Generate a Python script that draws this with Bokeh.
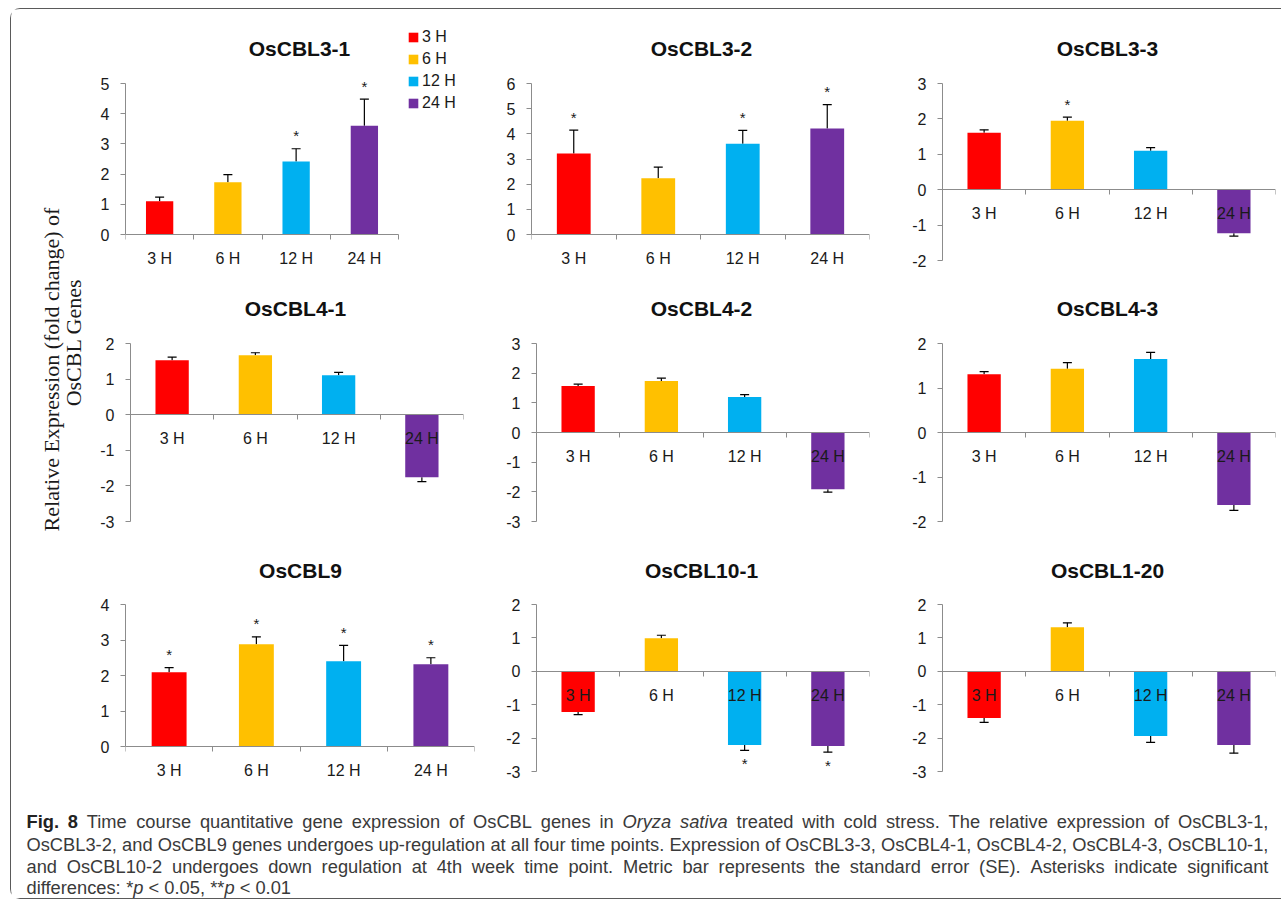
import math
from bokeh.plotting import figure
from bokeh.models import (Range1d, FixedTicker, ColumnDataSource,
                          Whisker, TeeHead, Label, Legend, LegendItem)
from bokeh.layouts import row, column
from bokeh.core.properties import value
from bokeh.embed import file_html
from bokeh.resources import INLINE

# ---------------- data ----------------
times = ["3 H", "6 H", "12 H", "24 H"]
time_colors = ["#FF0000", "#FFC000", "#00B0F0", "#7030A0"]

genes = ["OsCBL3-1", "OsCBL3-2", "OsCBL3-3", "OsCBL4-1", "OsCBL4-2",
         "OsCBL4-3", "OsCBL9", "OsCBL10-1", "OsCBL1-20"]

oscbl3_1 = [1.10, 1.73, 2.42, 3.60]
oscbl3_1_se = [0.14, 0.25, 0.42, 0.88]
oscbl3_1_sig = [False, False, True, True]

oscbl3_2 = [3.22, 2.24, 3.61, 4.21]
oscbl3_2_se = [0.93, 0.44, 0.53, 0.95]
oscbl3_2_sig = [True, False, True, True]

oscbl3_3 = [1.61, 1.95, 1.10, -1.23]
oscbl3_3_se = [0.08, 0.10, 0.09, 0.08]
oscbl3_3_sig = [False, True, False, False]

oscbl4_1 = [1.53, 1.67, 1.11, -1.76]
oscbl4_1_se = [0.09, 0.07, 0.08, 0.12]
oscbl4_1_sig = [False, False, False, False]

oscbl4_2 = [1.57, 1.74, 1.20, -1.91]
oscbl4_2_se = [0.06, 0.09, 0.08, 0.10]
oscbl4_2_sig = [False, False, False, False]

oscbl4_3 = [1.31, 1.43, 1.65, -1.63]
oscbl4_3_se = [0.06, 0.14, 0.15, 0.12]
oscbl4_3_sig = [False, False, False, False]

oscbl9 = [2.09, 2.88, 2.40, 2.32]
oscbl9_se = [0.13, 0.21, 0.45, 0.18]
oscbl9_sig = [True, True, True, True]

oscbl10_1 = [-1.22, 0.99, -2.21, -2.24]
oscbl10_1_se = [0.08, 0.09, 0.16, 0.18]
oscbl10_1_sig = [False, False, True, True]

oscbl1_20 = [-1.40, 1.32, -1.94, -2.21]
oscbl1_20_se = [0.13, 0.13, 0.19, 0.24]
oscbl1_20_sig = [False, False, False, False]

gene_means = [oscbl3_1, oscbl3_2, oscbl3_3, oscbl4_1, oscbl4_2, oscbl4_3, oscbl9, oscbl10_1, oscbl1_20]
gene_se = [oscbl3_1_se, oscbl3_2_se, oscbl3_3_se, oscbl4_1_se, oscbl4_2_se, oscbl4_3_se,
           oscbl9_se, oscbl10_1_se, oscbl1_20_se]
gene_sig = [oscbl3_1_sig, oscbl3_2_sig, oscbl3_3_sig, oscbl4_1_sig, oscbl4_2_sig, oscbl4_3_sig,
            oscbl9_sig, oscbl10_1_sig, oscbl1_20_sig]

y_axis_min = [0, 0, -2, -3, -3, -2, 0, -3, -3]
y_axis_max = [5, 6, 3, 2, 3, 2, 4, 2, 2]

y_label_lines = ["Relative Expression (fold change) of", "OsCBL Genes"]

caption_lines = [
    [("Fig. 8", "bold"), (" Time course quantitative gene expression of OsCBL genes in ", "normal"),
     ("Oryza sativa", "italic"), (" treated with cold stress. The relative expression of OsCBL3-1,", "normal")],
    [("OsCBL3-2, and OsCBL9 genes undergoes up-regulation at all four time points. Expression of "
      "OsCBL3-3, OsCBL4-1, OsCBL4-2, OsCBL4-3, OsCBL10-1,", "normal")],
    [("and OsCBL10-2 undergoes down regulation at 4th week time point. Metric bar represents the "
      "standard error (SE). Asterisks indicate significant", "normal")],
    [("differences: *", "normal"), ("p", "italic"), (" < 0.05, **", "normal"), ("p", "italic"),
     (" < 0.01", "normal")],
]
caption_justified = [True, True, True, False]

# ---------------- layout (page pixel coordinates) ----------------
FONT = "Liberation Sans"
SERIF = "Liberation Serif"
AXIS_GRAY = "#8c8c8c"
TEXT = "#1a1a1a"

PAGE_MARGIN = (8, 0, 0, 10)          # top, right, bottom, left of the bordered box
ORIGIN = (11, 9)                     # inner top-left of the bordered box
COL_EDGES = [(88, 480), (480, 880), (880, 1281)]
ROW_EDGES = [(9, 296), (296, 557), (557, 807)]
ROW_BOTTOM_BORDER = 12               # same for every plot of a row (rows align frames)
CAPTION_BOTTOM = 898
FRAMES = [(125, 398, 82.7, 234.3), (531, 869, 82.7, 234.3), (942, 1275, 82.7, 260),
          (130, 463, 343.3, 520.7), (536, 869, 343.3, 520.7), (942, 1275, 343.3, 520.7),
          (125, 474, 604.3, 746), (536, 869, 604.3, 771), (942, 1275, 604.3, 771)]
TITLE_POS = [(299, 47.5), (701, 47.5), (1107, 47.5),
             (295, 307.5), (701, 307.5), (1107, 307.5),
             (300, 570), (701, 570), (1107, 570)]
CAT_LABEL_DROP = 24                  # category label centre below the zero line, px
LEGEND_PANEL = 0
LEGEND_LEFT, LEGEND_BOTTOM = 407, 112
YLAB_POS = [(51, 369), (73, 342)]
CAPTION_X = 26
CAPTION_RIGHT = 1268
CAPTION_Y = [821, 844, 866, 887]


def build_panel(k):
    r, c = divmod(k, 3)
    cx0, cx1 = COL_EDGES[c]
    ry0, ry1 = ROW_EDGES[r]
    fx0, fx1, fy0, fy1 = FRAMES[k]
    n = len(times)
    lo, hi = y_axis_min[k], y_axis_max[k]

    mbl = round(fx0 - cx0)
    mbb = ROW_BOTTOM_BORDER
    mbr = 0 if k == LEGEND_PANEL else round(cx1 - fx1)
    afx0, afy1 = cx0 + mbl, ry1 - mbb          # frame left / bottom
    frame_right = cx1 - mbr
    px1, py0, py1 = round(fx1), round(fy0), round(fy1)   # plotted area right / top / bottom
    unit_x = (px1 - afx0) / n
    unit_y = (py1 - py0) / (hi - lo)
    x_end = n + 0.5 + (frame_right - px1) / unit_x
    y_end = hi + (py0 - ry0) / unit_y
    y_start = lo - (afy1 - py1) / unit_y

    xs = list(range(1, n + 1))
    vals, ses, sig = gene_means[k], gene_se[k], gene_sig[k]

    p = figure(width=cx1 - cx0, height=ry1 - ry0,
               x_range=Range1d(0.5, x_end), y_range=Range1d(y_start, y_end),
               toolbar_location=None, output_backend="svg",
               min_border_left=mbl, min_border_right=mbr,
               min_border_top=0, min_border_bottom=mbb)
    p.outline_line_color = None
    p.grid.visible = False
    p.background_fill_color = "white"
    p.border_fill_color = "white"

    src = ColumnDataSource(dict(x=xs, v=vals, color=time_colors, label=times,
                                zero=[0] * n))
    bars = p.vbar(x="x", top="v", bottom=0, width=0.4, fill_color="color",
                  line_color=None, source=src)

    pos = [i for i in range(n) if vals[i] >= 0]
    neg = [i for i in range(n) if vals[i] < 0]
    pos_src = ColumnDataSource(dict(x=[xs[i] for i in pos], lo=[vals[i] for i in pos],
                                    hi=[vals[i] + ses[i] for i in pos]))
    neg_src = ColumnDataSource(dict(x=[xs[i] for i in neg], lo=[vals[i] - ses[i] for i in neg],
                                    hi=[vals[i] for i in neg]))
    p.add_layout(Whisker(source=pos_src, base="x", lower="lo", upper="hi", lower_head=None,
                         upper_head=TeeHead(size=9, line_color="black", line_width=1.2),
                         line_color="black", line_width=1.2))
    p.add_layout(Whisker(source=neg_src, base="x", lower="lo", upper="hi", upper_head=None,
                         lower_head=TeeHead(size=9, line_color="black", line_width=1.2),
                         line_color="black", line_width=1.2))

    # category labels sit just under the zero line (Excel style), over the bars
    p.text(x="x", y="zero", text="label", source=src, text_font=value(FONT),
           text_font_size="16px", text_color=TEXT, text_align="center",
           text_baseline="middle", y_offset=CAT_LABEL_DROP)

    sp = [i for i in pos if sig[i]]
    sn = [i for i in neg if sig[i]]
    if sp:
        p.text(x=[xs[i] for i in sp], y=[vals[i] + ses[i] for i in sp], text=["*"] * len(sp),
               text_font=value(FONT), text_font_size="15px", text_color=TEXT,
               text_align="center", text_baseline="middle", y_offset=-13)
    if sn:
        p.text(x=[xs[i] for i in sn], y=[vals[i] - ses[i] for i in sn], text=["*"] * len(sn),
               text_font=value(FONT), text_font_size="15px", text_color=TEXT,
               text_align="center", text_baseline="middle", y_offset=13)

    yticks = list(range(lo, hi + 1))
    yax = p.yaxis[0]
    yax.bounds = (lo, hi)
    yax.ticker = FixedTicker(ticks=yticks)
    yax.major_label_overrides = {t: str(t) for t in yticks}
    yax.axis_line_color = AXIS_GRAY
    yax.major_tick_line_color = AXIS_GRAY
    yax.major_tick_in = 0
    yax.major_tick_out = 5
    yax.minor_tick_line_color = None
    yax.major_label_standoff = 11
    yax.major_label_text_font = FONT
    yax.major_label_text_font_size = "16px"
    yax.major_label_text_color = TEXT

    xax = p.xaxis[0]
    xax.fixed_location = 0
    xax.bounds = (0.5, n + 0.5)
    xax.ticker = FixedTicker(ticks=xs, minor_ticks=[x - 0.5 for x in xs] + [xs[-1] + 0.5])
    xax.major_label_overrides = {x: "" for x in xs}
    xax.major_label_text_font_size = "0px"
    xax.major_label_standoff = 0
    xax.axis_line_color = AXIS_GRAY
    xax.major_tick_line_color = None
    xax.major_tick_in = 0
    xax.major_tick_out = 0
    xax.minor_tick_line_color = AXIS_GRAY
    xax.minor_tick_in = 0
    xax.minor_tick_out = 5

    tx, ty = TITLE_POS[k]
    p.add_layout(Label(x=tx - afx0, y=afy1 - ty, x_units="screen", y_units="screen",
                       text=genes[k], text_font=FONT, text_font_style="bold",
                       text_font_size="21px", text_color="#111111",
                       text_align="center", text_baseline="middle"))

    if k == LEGEND_PANEL:
        items = [LegendItem(label=t, renderers=[bars], index=i) for i, t in enumerate(times)]
        leg = Legend(items=items, location=(LEGEND_LEFT - afx0, afy1 - LEGEND_BOTTOM),
                     glyph_width=12, glyph_height=12, label_height=19, spacing=3,
                     padding=0, margin=0, border_line_color=None, background_fill_alpha=0,
                     label_text_font=FONT, label_text_font_size="16px",
                     label_text_color=TEXT, label_standoff=3)
        p.add_layout(leg)
    return p


panels = [build_panel(k) for k in range(len(genes))]

# y-axis label column
ylab_w = COL_EDGES[0][0] - ORIGIN[0]
ylab_h = ROW_EDGES[-1][1] - ROW_EDGES[0][0]
ylab = figure(width=ylab_w, height=ylab_h, x_range=Range1d(0, 1), y_range=Range1d(0, 1),
              x_axis_type=None, y_axis_type=None, toolbar_location=None,
              output_backend="svg", min_border=0)
ylab.outline_line_color = None
for (lx, ly), line in zip(YLAB_POS, y_label_lines):
    ylab.add_layout(Label(x=lx - ORIGIN[0], y=ROW_EDGES[-1][1] - ly, x_units="screen",
                          y_units="screen", angle=math.pi / 2, text=line,
                          text_font=SERIF, text_font_size="22px", text_color=TEXT,
                          text_align="center", text_baseline="middle"))

# caption (Liberation Sans shares Arial's advance widths)
AR = {' ': 278, '!': 278, '"': 355, '#': 556, '$': 556, '%': 889, '&': 667, "'": 191, '(': 333,
      ')': 333, '*': 389, '+': 584, ',': 278, '-': 333, '.': 278, '/': 278, ':': 278, ';': 278,
      '<': 584, '=': 584, '>': 584, '?': 556,
      'A': 667, 'B': 667, 'C': 722, 'D': 722, 'E': 667, 'F': 611, 'G': 778, 'H': 722, 'I': 278,
      'J': 500, 'K': 667, 'L': 556, 'M': 833, 'N': 722, 'O': 778, 'P': 667, 'Q': 778, 'R': 722,
      'S': 667, 'T': 611, 'U': 722, 'V': 667, 'W': 944, 'X': 667, 'Y': 667, 'Z': 611,
      'a': 556, 'b': 556, 'c': 500, 'd': 556, 'e': 556, 'f': 278, 'g': 556, 'h': 556, 'i': 222,
      'j': 222, 'k': 500, 'l': 222, 'm': 833, 'n': 556, 'o': 556, 'p': 556, 'q': 556, 'r': 333,
      's': 500, 't': 278, 'u': 556, 'v': 500, 'w': 722, 'x': 500, 'y': 500, 'z': 500}
AB = {'F': 611, 'i': 278, 'g': 611, '.': 278, ' ': 278, '8': 556}


def em_width(s, style):
    tbl = AB if style == "bold" else AR
    return sum(tbl.get(ch, AR.get(ch, 556)) for ch in s) / 1000.0


def words_of(runs):
    words = [[]]
    for s, st in runs:
        parts = s.split(" ")
        for j, part in enumerate(parts):
            if j > 0:
                words.append([])
            if part:
                words[-1].append((part, st))
    return [w for w in words if w]


cap_w = COL_EDGES[-1][1] - ORIGIN[0]
cap_h = CAPTION_BOTTOM - ROW_EDGES[-1][1]
cap = figure(width=cap_w, height=cap_h, x_range=Range1d(0, cap_w), y_range=Range1d(cap_h, 0),
             x_axis_type=None, y_axis_type=None, toolbar_location=None,
             output_backend="svg", min_border=0)
cap.outline_line_color = None

avail = CAPTION_RIGHT - CAPTION_X
line_words = [words_of(ln) for ln in caption_lines]
natural = [sum(em_width(f, st) for w in ws for f, st in w) + AR[' '] / 1000.0 * (len(ws) - 1)
           for ws in line_words]
cap_fs = avail / max(nat for nat, j in zip(natural, caption_justified) if j)

groups = {"normal": ([], [], []), "bold": ([], [], []), "italic": ([], [], [])}
for ws, py, just in zip(line_words, CAPTION_Y, caption_justified):
    word_w = [sum(em_width(f, st) for f, st in w) * cap_fs for w in ws]
    gap = (avail - sum(word_w)) / (len(ws) - 1) if just else AR[' '] / 1000.0 * cap_fs
    cx = CAPTION_X - ORIGIN[0]
    for w, ww in zip(ws, word_w):
        fx = cx
        for f, st in w:
            g = groups[st]
            g[0].append(fx)
            g[1].append(py - ROW_EDGES[-1][1])
            g[2].append(f)
            fx += em_width(f, st) * cap_fs
        cx += ww + gap
for st, (gx, gy, gt) in groups.items():
    cap.text(x=gx, y=gy, text=gt, text_font=value(FONT), text_font_style=st,
             text_font_size=f"{cap_fs:.2f}px",
             text_color=("#222222" if st == "bold" else "#3a3a3a"),
             text_align="left", text_baseline="middle")

grid = column(row(panels[0], panels[1], panels[2]),
              row(panels[3], panels[4], panels[5]),
              row(panels[6], panels[7], panels[8]))
page = column(row(ylab, grid), cap, margin=PAGE_MARGIN,
              styles={"border-left": "1px solid #5a5a5a", "border-top": "1px solid #5a5a5a",
                      "border-bottom": "1px solid #5a5a5a",
                      "border-top-left-radius": "10px", "border-bottom-left-radius": "10px"})

open("out.html", "w").write(file_html(page, INLINE, title="OsCBL expression"))
